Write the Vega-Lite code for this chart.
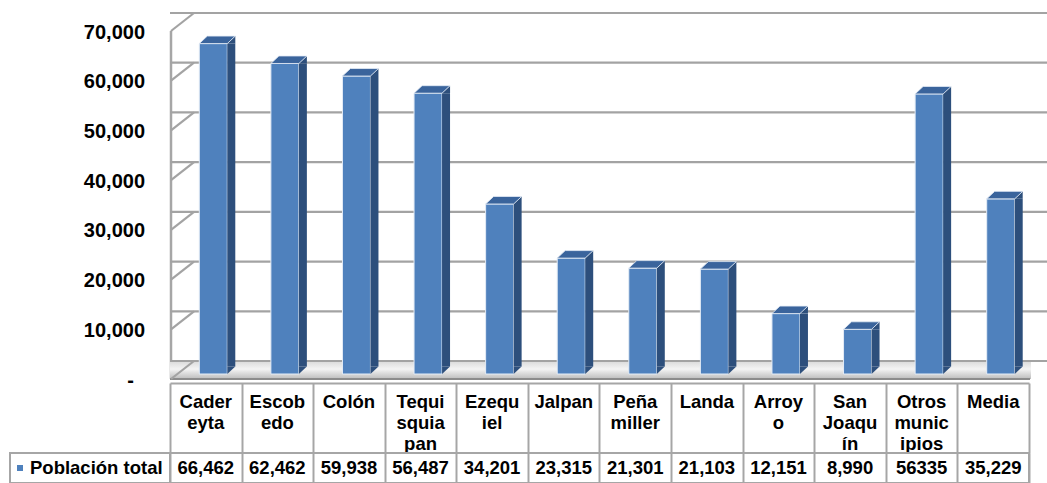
{
  "$schema": "https://vega.github.io/schema/vega-lite/v6.json",
  "background": "white",
  "padding": {"left": 9, "top": 11, "right": 0, "bottom": 0},
  "autosize": {"type": "pad"},
  "config": {"font": "Liberation Sans", "view": {"stroke": null}},
  "datasets": {
    "municipios": [
      {"municipio": "Cadereyta", "etiqueta": "Cader\neyta", "poblacion": 66462},
      {"municipio": "Escobedo", "etiqueta": "Escob\nedo", "poblacion": 62462},
      {"municipio": "Colón", "etiqueta": "Colón", "poblacion": 59938},
      {"municipio": "Tequisquiapan", "etiqueta": "Tequi\nsquia\npan", "poblacion": 56487},
      {"municipio": "Ezequiel", "etiqueta": "Ezequ\niel", "poblacion": 34201},
      {"municipio": "Jalpan", "etiqueta": "Jalpan", "poblacion": 23315},
      {"municipio": "Peñamiller", "etiqueta": "Peña\nmiller", "poblacion": 21301},
      {"municipio": "Landa", "etiqueta": "Landa", "poblacion": 21103},
      {"municipio": "Arroyo", "etiqueta": "Arroy\no", "poblacion": 12151},
      {"municipio": "San Joaquín", "etiqueta": "San\nJoaqu\nín", "poblacion": 8990},
      {"municipio": "Otros municipios", "etiqueta": "Otros\nmunic\nipios", "poblacion": 56335},
      {"municipio": "Media", "etiqueta": "Media", "poblacion": 35229}
    ],
    "marcas": [
      {"v": 0}, {"v": 10000}, {"v": 20000}, {"v": 30000},
      {"v": 40000}, {"v": 50000}, {"v": 60000}, {"v": 70000}
    ]
  },
  "columns": 2,
  "spacing": {"row": 79, "column": 0},
  "bounds": "flush",
  "align": "each",
  "concat": [
    {
      "width": 160,
      "height": 348,
      "data": {"values": [{}]},
      "mark": {"type": "point", "opacity": 0},
      "encoding": {}
    },
    {
      "width": 859,
      "height": 348,
      "layer": [
        {
          "data": {"name": "municipios"},
          "mark": {"type": "bar", "width": 28, "xOffset": 7.5, "opacity": 0},
          "encoding": {
            "x": {
              "field": "municipio", "type": "nominal", "sort": null,
              "scale": {"paddingInner": 0, "paddingOuter": 0},
              "axis": {
                "title": null, "labels": false, "grid": false,
                "domain": true, "domainColor": "#a6a6a6", "domainWidth": 2,
                "ticks": true, "tickBand": "extent", "tickSize": 70,
                "tickColor": "#a6a6a6", "tickWidth": 2, "offset": 9
              }
            },
            "y": {
              "field": "poblacion", "type": "quantitative",
              "scale": {"domain": [0, 70000], "nice": false},
              "axis": {
                "title": null,
                "values": [0, 10000, 20000, 30000, 40000, 50000, 60000, 70000],
                "labelExpr": "datum.value === 0 ? '-' : format(datum.value, ',')",
                "grid": false, "ticks": false, "tickSize": 0,
                "domain": true, "domainColor": "#a6a6a6", "domainWidth": 2.5,
                "labelFont": "Liberation Sans", "labelFontSize": 20, "labelFontWeight": "bold",
                "labelColor": "#000000",
                "labelPadding": {"condition": {"test": "datum.value === 0", "value": 37}, "value": 26},
                "translate": 5, "offset": 4, "labelOffset": 1.5
              }
            },
            "y2": {"datum": 0}
          }
        },
        {
          "data": {"name": "marcas"},
          "transform": [{"filter": "datum.v === 0"}],
          "mark": {
            "type": "rect",
            "yOffset": 5,
            "y2Offset": -13,
            "xOffset": 2,
            "x2Offset": 18,
            "fill": {
              "gradient": "linear",
              "x1": 0, "y1": 0, "x2": 0, "y2": 1,
              "stops": [
                {"offset": 0, "color": "#dadada"},
                {"offset": 0.45, "color": "#f4f4f4"},
                {"offset": 1, "color": "#bcbcbc"}
              ]
            }
          },
          "encoding": {
            "y": {"field": "v", "type": "quantitative"},
            "y2": {"field": "v"}
          }
        },
        {
          "data": {"name": "marcas"},
          "transform": [{"filter": "datum.v === 0"}],
          "mark": {"type": "rule", "yOffset": 5, "xOffset": 1, "color": "#8c8c8c", "strokeWidth": 2},
          "encoding": {
            "y": {"field": "v", "type": "quantitative"}
          }
        },
        {
          "data": {"name": "marcas"},
          "mark": {"type": "rule", "yOffset": -13, "xOffset": 23, "x2Offset": 24, "color": "#a3a3a3", "strokeWidth": 2.2},
          "encoding": {
            "y": {"field": "v", "type": "quantitative"}
          }
        },
        {
          "data": {"name": "marcas"},
          "mark": {"type": "rule", "xOffset": -34.8, "x2Offset": -11.8, "yOffset": 5, "y2Offset": -13, "color": "#a3a3a3", "strokeWidth": 2.2},
          "encoding": {
            "x": {"datum": "Cadereyta", "type": "nominal"},
            "x2": {"datum": "Cadereyta"},
            "y": {"field": "v", "type": "quantitative"},
            "y2": {"field": "v"}
          }
        },
        {
          "data": {"name": "municipios"},
          "mark": {"type": "bar", "width": 28, "xOffset": 7.5, "color": "#4f81bd", "stroke": "#e4ecf6", "strokeWidth": 1},
          "encoding": {
            "x": {"field": "municipio", "type": "nominal", "sort": null},
            "y": {"field": "poblacion", "type": "quantitative"},
            "y2": {"datum": 0}
          }
        },
        {
          "data": {"name": "municipios"},
          "mark": {"type": "bar", "width": 8, "xOffset": 25.5, "y2Offset": -7.5, "color": "#2d4f7c"},
          "encoding": {
            "x": {"field": "municipio", "type": "nominal", "sort": null},
            "y": {"field": "poblacion", "type": "quantitative"},
            "y2": {"datum": 0}
          }
        },
        {
          "data": {"name": "municipios"},
          "mark": {"type": "point", "shape": "M 21.5 0 L 29.5 -7.5 L 29.5 0 Z", "size": 4, "filled": true, "opacity": 1, "color": "#2d4f7c"},
          "encoding": {
            "x": {"field": "municipio", "type": "nominal", "sort": null},
            "y": {"field": "poblacion", "type": "quantitative"}
          }
        },
        {
          "data": {"name": "municipios"},
          "mark": {"type": "point", "shape": "M 21.5 -7.5 L 29.5 -7.5 L 21.5 0 Z", "size": 4, "filled": true, "opacity": 1, "color": "#2d4f7c"},
          "encoding": {
            "x": {"field": "municipio", "type": "nominal", "sort": null},
            "y": {"datum": 0, "type": "quantitative"}
          }
        },
        {
          "data": {"name": "municipios"},
          "mark": {"type": "point", "shape": "M -6.5 0 L 21.5 0 L 29.5 -7.5 L 1.5 -7.5 Z", "size": 4, "filled": true, "opacity": 1, "color": "#3a649c", "stroke": "#e4ecf6", "strokeWidth": 0.8},
          "encoding": {
            "x": {"field": "municipio", "type": "nominal", "sort": null},
            "y": {"field": "poblacion", "type": "quantitative"}
          }
        },
        {
          "data": {"name": "municipios"},
          "mark": {"type": "text", "dy": 34, "baseline": "alphabetic", "align": "center", "lineBreak": "\n", "lineHeight": 21, "fontSize": 18.5, "fontWeight": "bold", "color": "#000000"},
          "encoding": {
            "x": {"field": "municipio", "type": "nominal", "sort": null},
            "y": {"datum": 0, "type": "quantitative"},
            "text": {"field": "etiqueta"}
          }
        }
      ]
    },
    {
      "width": 160,
      "height": 30,
      "data": {"values": [{"serie": "Población total"}]},
      "view": {"stroke": "#a6a6a6", "strokeWidth": 2},
      "layer": [
        {
          "mark": {"type": "point", "shape": "square", "size": 36, "filled": true, "opacity": 1, "color": "#4f81bd", "xOffset": -70},
          "encoding": {}
        },
        {
          "mark": {"type": "text", "align": "left", "dx": -60, "fontSize": 18.5, "fontWeight": "bold", "color": "#000000"},
          "encoding": {"text": {"field": "serie"}}
        }
      ]
    },
    {
      "width": 859,
      "height": 30,
      "data": {"name": "municipios"},
      "view": {"stroke": "#a6a6a6", "strokeWidth": 2},
      "mark": {"type": "text", "fontSize": 18.5, "fontWeight": "bold", "color": "#000000"},
      "encoding": {
        "x": {
          "field": "municipio", "type": "nominal", "sort": null,
          "scale": {"paddingInner": 0, "paddingOuter": 0},
          "axis": {"title": null, "labels": false, "ticks": false, "domain": false, "grid": true, "tickBand": "extent", "gridColor": "#a6a6a6", "gridWidth": 2}
        },
        "text": {
          "condition": {"test": "datum.municipio === 'Otros municipios'", "field": "poblacion", "type": "quantitative", "format": "d"},
          "field": "poblacion", "type": "quantitative", "format": ","
        }
      }
    }
  ]
}
